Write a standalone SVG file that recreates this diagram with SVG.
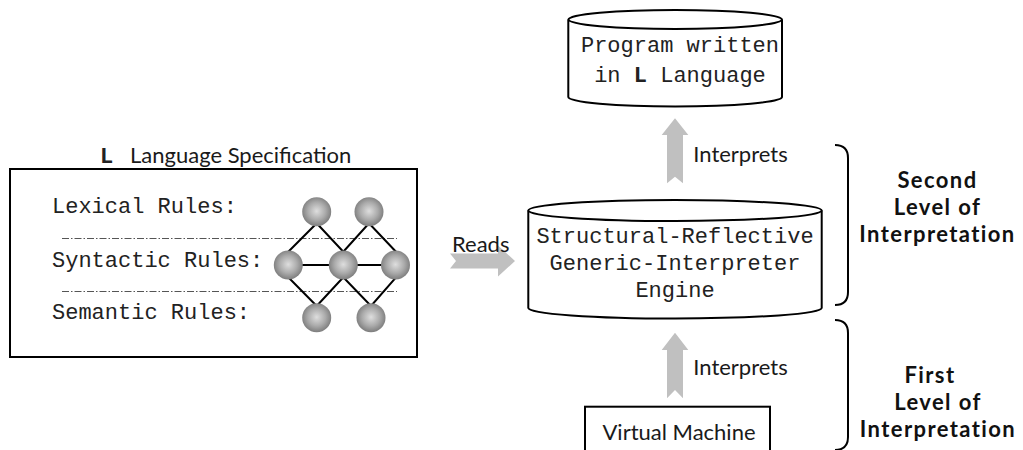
<svg xmlns="http://www.w3.org/2000/svg" width="1023" height="450" viewBox="0 0 1023 450">
<style>
.mono{font-family:"Liberation Mono","Courier New",monospace;font-size:22px;fill:#222}
.sans{font-family:Lato,"Open Sans",sans-serif;font-size:22px;fill:#1a1a1a}
.bold{font-family:Lato,"Open Sans",sans-serif;font-size:22px;font-weight:bold;fill:#111;letter-spacing:1.4px}
.shape{fill:#fff;stroke:#000;stroke-width:2}
.sep{stroke:#555;stroke-width:1;stroke-dasharray:7 2 1.5 2;fill:none}
.net{stroke:#000;stroke-width:2;fill:none}
.ball{fill:url(#ballg)}
.arrow{fill:#c0c0c0;stroke:none}
.brace{fill:none;stroke:#000;stroke-width:2}
</style>
<defs>
<radialGradient id="ballg" cx="50%" cy="48%" r="55%">
<stop offset="0" stop-color="#dedede"/>
<stop offset="0.55" stop-color="#ababab"/>
<stop offset="1" stop-color="#777"/>
</radialGradient>
</defs>
<rect width="1023" height="450" fill="#fff"/>

<g id="spec">
<text x="100" y="163" class="sans"><tspan class="mono" font-weight="bold">L</tspan><tspan x="130">Language Specification</tspan></text>
<rect x="10" y="169" width="407" height="188" class="shape"/>
<text x="52" y="213" class="mono">Lexical Rules:</text>
<text x="52" y="267" class="mono">Syntactic Rules:</text>
<text x="52" y="318.5" class="mono">Semantic Rules:</text>
<line x1="62" y1="238.5" x2="397" y2="238.5" class="sep"/>
<line x1="62" y1="291.5" x2="397" y2="291.5" class="sep"/>
<polyline points="288.3,251.7 316.7,223.3 343.3,251.7 369,223.3 396,251.7" class="net"/>
<polyline points="288.3,277.3 316.7,306 343.3,277.3 371,306 396,277.3" class="net"/>
<line x1="288" y1="265" x2="396" y2="265" class="net"/>
<circle cx="316.7" cy="211.7" r="14.5" class="ball"/>
<circle cx="369" cy="211.7" r="14.5" class="ball"/>
<circle cx="288.3" cy="265" r="14.5" class="ball"/>
<circle cx="343.3" cy="265" r="14.5" class="ball"/>
<circle cx="395.5" cy="265" r="14.5" class="ball"/>
<circle cx="316.7" cy="317.7" r="14.5" class="ball"/>
<circle cx="371" cy="317.7" r="14.5" class="ball"/>
</g>

<g id="program">
<path d="M568.3,19.5 L568.3,97 A106.7,9.5 0 0 0 782,97 L782,19.5" class="shape"/>
<ellipse cx="675.2" cy="19.5" rx="106.7" ry="9.5" class="shape"/>
<text x="680" y="52" class="mono" text-anchor="middle">Program written</text>
<text x="680" y="82" class="mono" text-anchor="middle">in <tspan font-weight="bold">L</tspan> Language</text>
</g>

<g id="engine">
<path d="M528.3,210.5 L528.3,308 A146.7,10.5 0 0 0 821.7,308 L821.7,210.5" class="shape"/>
<ellipse cx="675" cy="210.5" rx="146.7" ry="10.5" class="shape"/>
<text x="675" y="243" class="mono" text-anchor="middle">Structural-Reflective</text>
<text x="675" y="270" class="mono" text-anchor="middle">Generic-Interpreter</text>
<text x="675" y="297" class="mono" text-anchor="middle">Engine</text>
</g>

<g id="vm">
<rect x="585" y="406.7" width="185" height="50" class="shape"/>
<text x="679" y="440" class="sans" text-anchor="middle">Virtual Machine</text>
</g>

<g id="connectors">
<path d="M450,253.5 L498,253.5 L498,245.5 L515,261 L498,276.5 L498,268.5 L450,268.5 L456,261 Z" class="arrow"/>
<text x="452" y="251.7" class="sans">Reads</text>
<path d="M675,118.3 L688.3,135 L683,135 L683,183.3 L675,176.7 L667,183.3 L667,135 L661.7,135 Z" class="arrow"/>
<text x="693.3" y="161.7" class="sans">Interprets</text>
<path d="M675,332.7 L688.3,350 L683,350 L683,398.3 L675,390 L667,398.3 L667,350 L661.7,350 Z" class="arrow"/>
<text x="693.3" y="375" class="sans">Interprets</text>
</g>

<g id="second-level">
<path d="M835,145 Q848,145 848,158 L848,292 Q848,305 835,305" class="brace"/>
<text x="937.5" y="188.3" class="bold" text-anchor="middle">Second</text>
<text x="937.5" y="215" class="bold" text-anchor="middle">Level of</text>
<text x="937.5" y="241.7" class="bold" text-anchor="middle">Interpretation</text>
</g>

<g id="first-level">
<path d="M835,320 Q848,320 848,333 L848,437 Q848,450 835,450" class="brace"/>
<text x="930" y="383.3" class="bold" text-anchor="middle">First</text>
<text x="938" y="410" class="bold" text-anchor="middle">Level of</text>
<text x="938" y="436.7" class="bold" text-anchor="middle">Interpretation</text>
</g>
</svg>
